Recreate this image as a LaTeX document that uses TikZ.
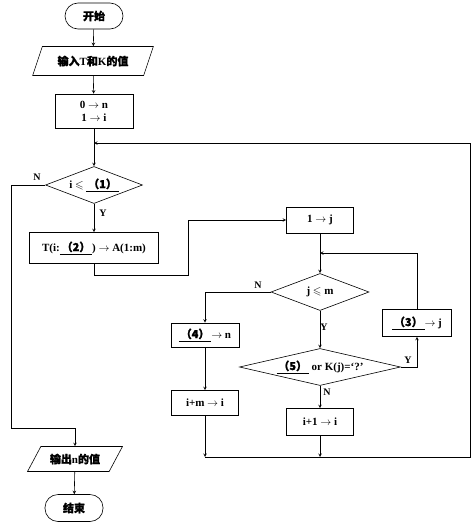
\documentclass[tikz,border=0pt]{standalone}
\usepackage{amssymb}
\usepackage{fontspec}
\setmainfont{Liberation Serif}
\newfontfamily\cjk{Noto Sans CJK SC}[FakeBold=1.3]
\usetikzlibrary{shapes.geometric}
\tikzset{>=stealth}
\tikzset{
  base/.style={draw, line width=0.6pt, inner sep=1pt, font=\fontsize{11}{13}\selectfont\bfseries},
  term/.style={base, rounded corners=13pt, minimum width=58pt, minimum height=26pt},
  io/.style={base, trapezium, trapezium stretches=true},
  proc/.style={base, minimum width=67pt, minimum height=26pt},
  test/.style={base, diamond, inner sep=0pt},
  lab/.style={font=\fontsize{10}{11}\selectfont\bfseries, inner sep=0pt},
  flow/.style={->, line width=0.6pt}
}
\newcommand\blank[1]{\underline{\,{\cjk （#1）}\,}}

\begin{document}
\begin{tikzpicture}[x=1pt,y=-1pt]
\useasboundingbox (0,0) rectangle (476,527);
% main column
\node[term] (S) at (94,16) {\cjk 开始};
\node[io, trapezium left angle=61, trapezium right angle=119,
  minimum width=121pt, minimum height=29pt] (I) at (93,61) {{\cjk 输入}T{\cjk 和}K{\cjk 的值}};
\node[proc, minimum width=78pt, minimum height=34pt, align=center] (P) at (94,111)
  {0 $\rightarrow$ n\\1 $\rightarrow$ i};
\coordinate (M1) at (94,143);
\node[test, minimum width=97pt, minimum height=37pt, aspect=2.6] (D1) at (94,185)
  {i $\leqslant$ \blank{1}};
\node[proc, minimum width=129pt, minimum height=31pt] (T) at (94,248)
  {T(i:\blank{2}) $\rightarrow$ A(1:m)};
\node[io, trapezium left angle=51, trapezium right angle=129,
  minimum width=95pt, minimum height=25pt] (O) at (75,459) {{\cjk 输出}n{\cjk 的值}};
\node[term, minimum height=27pt] (E) at (74,508) {\cjk 结束};
% inner loop
\node[proc] (J) at (320,220) {1 $\rightarrow$ j};
\coordinate (M2) at (320,253);
\node[test, minimum width=98pt, minimum height=37pt, aspect=2.65] (D2) at (320,292)
  {j $\leqslant$ m};
\node[proc, minimum width=68pt, minimum height=24pt] (F) at (205,335)
  {\blank{4}$\rightarrow$ n};
\node[proc, minimum height=25pt] (G) at (205,403) {i+m $\rightarrow$ i};
\node[test, minimum width=161pt, minimum height=37pt, aspect=4.35] (D5) at (320,367)
  {\blank{5} or K(j)=`?'};
\node[proc, minimum width=69pt, minimum height=27pt] (H) at (417,323)
  {\blank{3}$\rightarrow$ j};
\node[proc, minimum height=27pt] (K) at (320,422) {i+1 $\rightarrow$ i};
\coordinate (C1) at (188,275);
\coordinate (B1) at (205,457);
\coordinate (B2) at (320,457);
\coordinate (R) at (470,143);
\coordinate (L) at (11,428);
% connectors
\draw[flow] (S) -- (I);
\draw[flow] (I) -- (P);
\draw[flow] (P) -- (D1);
\draw[flow] (D1) -- (T);
\draw[flow] (T.south) |- (C1) |- (J.west);
\draw[flow] (J) -- (D2);
\draw[flow] (D2.west) -| (F.north);
\draw[flow] (F) -- (G);
\draw[flow] (G) -- (B1);
\draw[flow] (D2) -- (D5);
\draw[flow] (D5.east) -| (H.south);
\draw[flow] (H.north) |- (M2);
\draw[flow] (D5) -- (K);
\draw[flow] (K) -- (B2);
\draw[flow] (B1) -| (R) -- (M1);
\draw[flow] (D1.west) -| (L) -| (O.north);
\draw[flow] (O) -- (E);
% labels
\node[lab] (n1) at (37,177) {N};
\node[lab] (y1) at (103,213) {Y};
\node[lab] (n2) at (258,285) {N};
\node[lab] (y2) at (324,327) {Y};
\node[lab] (y5) at (408,360) {Y};
\node[lab] (n5) at (327,392) {N};
\end{tikzpicture}
\end{document}
